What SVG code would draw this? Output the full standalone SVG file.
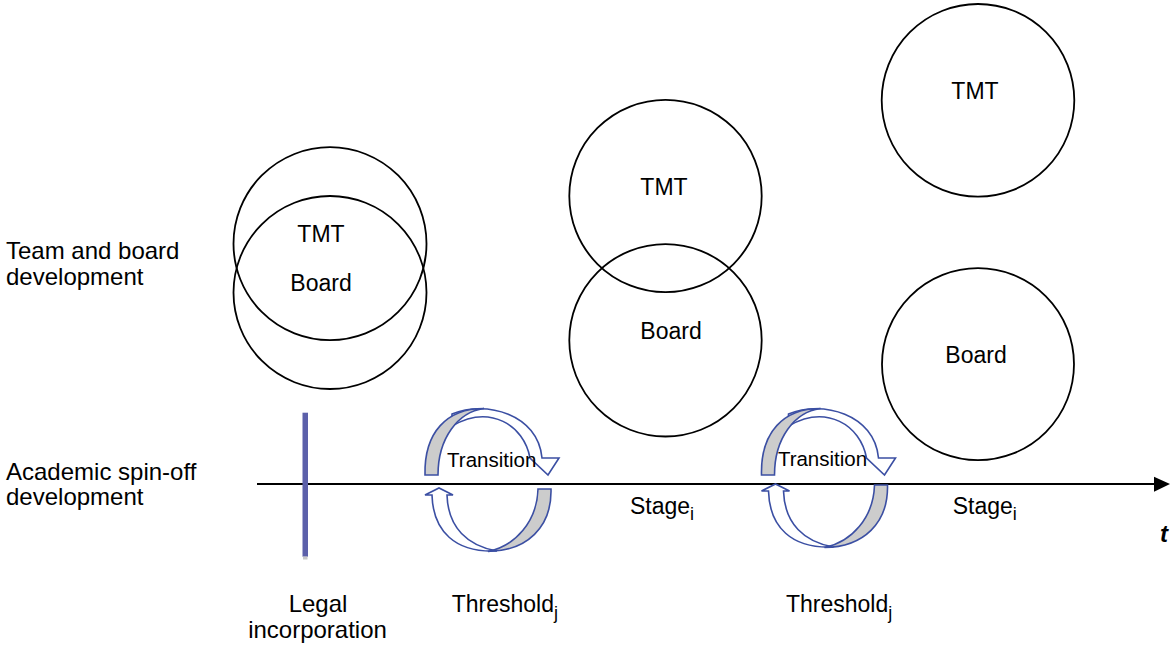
<svg xmlns="http://www.w3.org/2000/svg" xmlns:xlink="http://www.w3.org/1999/xlink" width="1172" height="645" viewBox="0 0 1172 645">
<style>
.c{fill:none;stroke:#000;stroke-width:1.8}
.t{font-family:"Liberation Sans",Arial,sans-serif;font-size:23px;fill:#000}
.l{font-size:24px}
.m{text-anchor:middle}
.tr{font-size:20.5px}
.sub{font-size:18px}
.band{fill:#fff;stroke:#3b4fa3;stroke-width:1.6;stroke-linejoin:miter}
.back{fill:#cccccc;stroke:#3b4fa3;stroke-width:1.6;stroke-linejoin:miter}
</style>
<defs>
<g id="arcTop">
<path class="band" d="M452,414 C486,400 538,414 542,458 L559,458 L548,475 L530,458 C524,425 490,404 452,426 Z"/>
<path class="back" d="M425,475 C424,432 447,408.5 484,408.5 C458,412 438,438 438,475 Z"/>
</g>
<g id="arcBottom">
<path class="band" d="M425,495 L439,488 L453,495 L447,495 C448,528 468,546 497,551 C455,553 433,531 432,495 Z"/>
<path class="back" d="M538,489 L551,489 C552,527 527,551 488,551.5 C515,546 537,522 538,489 Z"/>
</g>
</defs>
<rect width="1172" height="645" fill="#fff"/>

<g id="label-team">
<text class="t l" x="6" y="259">Team and board</text>
<text class="t l" x="6" y="285">development</text>
</g>
<g id="label-academic">
<text class="t l" x="6" y="480">Academic spin-off</text>
<text class="t l" x="6" y="505">development</text>
</g>

<g id="tmt-1"><circle class="c" cx="330" cy="243.7" r="96.5"/><text class="t m" x="321" y="242.3">TMT</text></g>
<g id="board-1"><circle class="c" cx="330" cy="292.5" r="96.5"/><text class="t m" x="321" y="291">Board</text></g>
<g id="tmt-2"><circle class="c" cx="665.5" cy="196" r="96.2"/><text class="t m" x="664" y="195">TMT</text></g>
<g id="board-2"><circle class="c" cx="665.5" cy="340.3" r="96.2"/><text class="t m" x="671" y="339.3">Board</text></g>
<g id="tmt-3"><circle class="c" cx="978" cy="100.3" r="96.3"/><text class="t m" x="975" y="99">TMT</text></g>
<g id="board-3"><circle class="c" cx="978" cy="364.2" r="96"/><text class="t m" x="976" y="362.7">Board</text></g>

<g id="connectors">
<line x1="257" y1="484" x2="1156" y2="484" stroke="#000" stroke-width="2"/>
<polygon points="1154,476.7 1170,484 1154,491.7" fill="#000"/>
</g>

<g id="legal-incorporation">
<rect x="302.5" y="412.7" width="5.5" height="144" fill="#5c60aa"/>
<rect x="303" y="556.5" width="4.5" height="3" fill="#c8c8c8"/>
<text class="t m l" x="318" y="611.6">Legal</text>
<text class="t m l" x="317.5" y="638">incorporation</text>
</g>

<g id="transition-1">
<use xlink:href="#arcTop"/>
<use xlink:href="#arcBottom"/>
<text class="t m tr" x="491.7" y="466.7">Transition</text>
</g>
<g id="transition-2">
<use xlink:href="#arcTop" transform="translate(336.5,0)"/>
<use xlink:href="#arcBottom" transform="translate(336.5,-4)"/>
<text class="t m tr" x="822.5" y="465.7">Transition</text>
</g>

<g id="stage-1"><text class="t" x="630" y="514">Stage<tspan class="sub" dy="6">i</tspan></text></g>
<g id="stage-2"><text class="t" x="952.7" y="514">Stage<tspan class="sub" dy="6">i</tspan></text></g>
<g id="threshold-1"><text class="t" x="451.7" y="611.6">Threshold<tspan class="sub" dy="7">j</tspan></text></g>
<g id="threshold-2"><text class="t" x="786" y="611.6">Threshold<tspan class="sub" dy="7">j</tspan></text></g>

<text x="1160" y="541.7" style="font-family:'Liberation Sans',Arial,sans-serif;font-size:24px;font-weight:bold;font-style:italic">t</text>
</svg>
